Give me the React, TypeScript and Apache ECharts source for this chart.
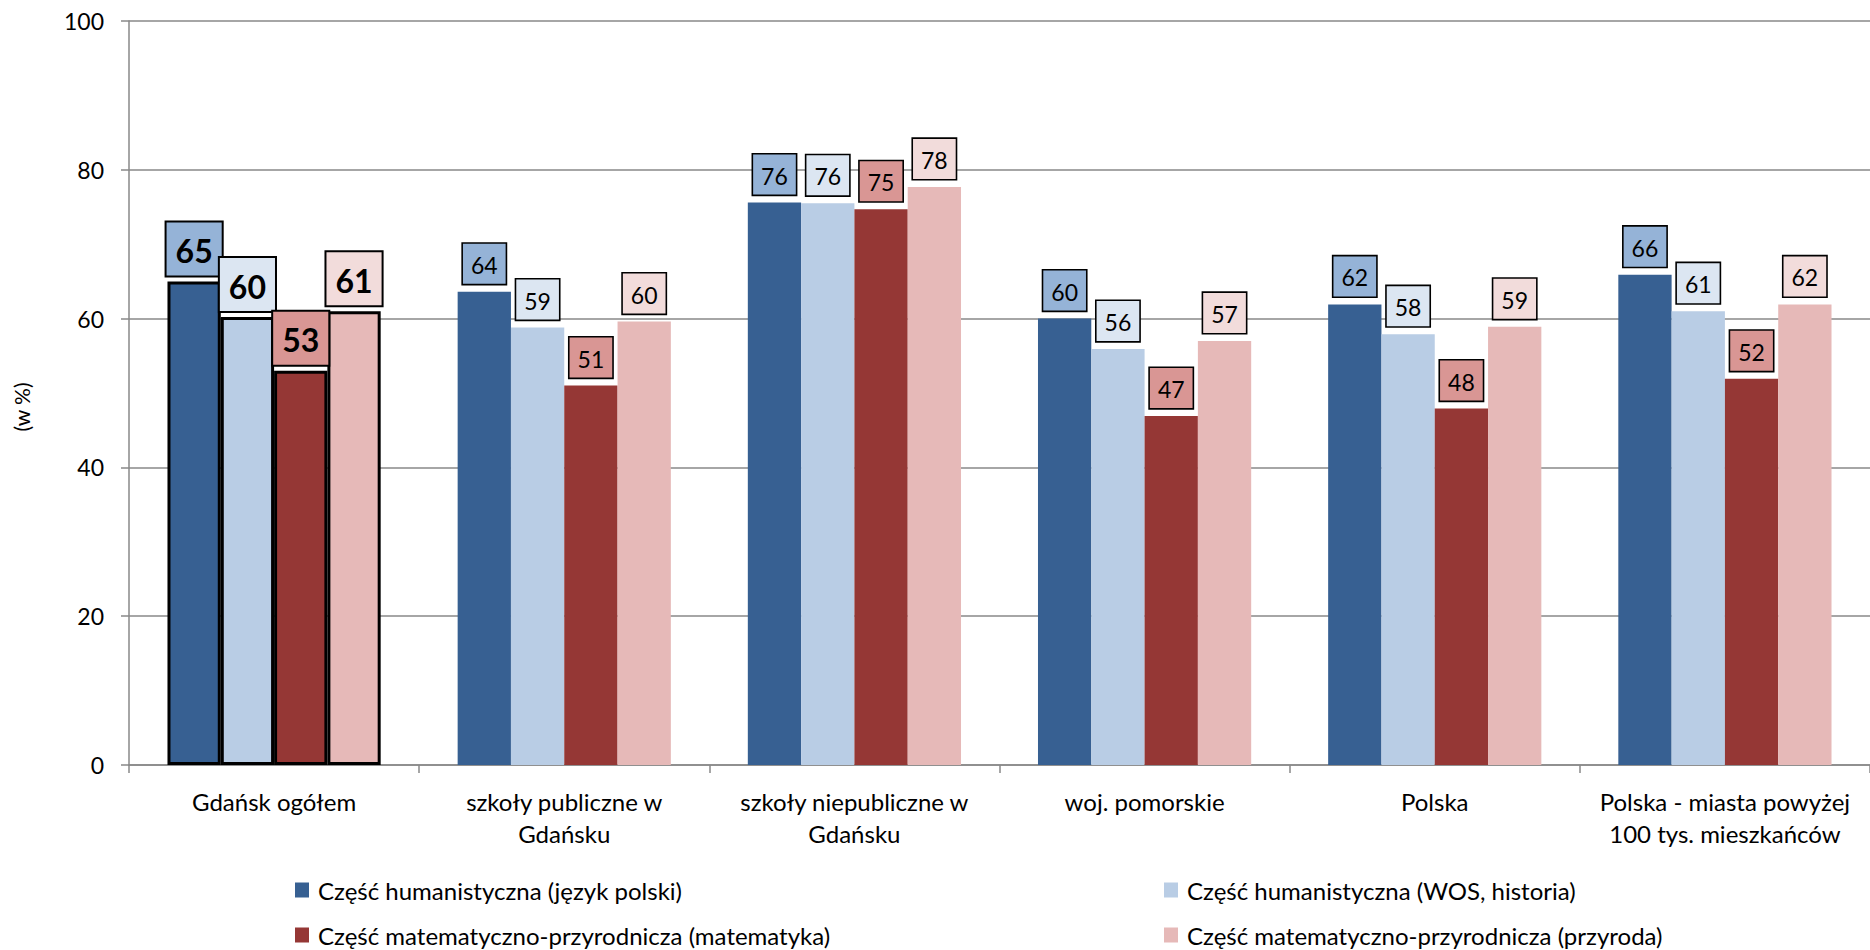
import React, { useEffect, useRef } from "react";
import * as echarts from "echarts";

const categories = [
  "Gdańsk ogółem",
  "szkoły publiczne w\nGdańsku",
  "szkoły niepubliczne w\nGdańsku",
  "woj. pomorskie",
  "Polska",
  "Polska - miasta powyżej\n100 tys. mieszkańców",
];

const seriesNames = [
  "Część humanistyczna (język polski)",
  "Część humanistyczna (WOS, historia)",
  "Część matematyczno-przyrodnicza (matematyka)",
  "Część matematyczno-przyrodnicza (przyroda)",
];

const jezykPolski = [65.0, 63.6, 75.6, 60.0, 61.9, 65.9];
const wosHistoria = [60.2, 58.8, 75.5, 55.9, 57.9, 61.0];
const matematyka = [53.0, 51.0, 74.7, 46.9, 47.9, 51.9];
const przyroda = [61.0, 59.6, 77.7, 57.0, 58.9, 61.9];

const yTicks = [0, 20, 40, 60, 80, 100];

const barColors = ["#376092", "#B9CDE5", "#953735", "#E6B9B8"];
const labelFills = ["#95B3D7", "#DCE6F2", "#D99694", "#F2DCDB"];

const FONT = "Lato";

export default function App() {
  const ref = useRef<HTMLDivElement>(null);

  useEffect(() => {
    if (!ref.current) return;
    const chart = echarts.init(ref.current, null, { renderer: "svg" });
    const allValues = [jezykPolski, wosHistoria, matematyka, przyroda];

    const series = allValues.map((vals, si) => ({
      name: seriesNames[si],
      type: "bar",
      barWidth: 53.3,
      barGap: "0%",
      itemStyle: { color: barColors[si] },
      label: {
        show: true,
        position: "top",
        distance: 8,
        formatter: (p: any) => String(Math.round(p.value)),
        fontFamily: FONT,
        fontSize: 23,
        color: "#000",
        backgroundColor: labelFills[si],
        borderColor: "#000",
        borderWidth: 1.6,
        padding: [8, 8, 6, 8],
        lineHeight: 26,
      },
      data: vals.map((v, i) =>
        i === 0
          ? {
              value: v,
              itemStyle: { color: barColors[si], borderColor: "#000", borderWidth: 3 },
              label: {
                fontSize: 32,
                fontWeight: "bold",
                lineHeight: 36,
                padding: [10, 9, 7, 9],
                borderWidth: 2,
                distance: 6,
              },
            }
          : v
      ),
    }));

    const legendCommon = {
      orient: "vertical",
      top: 878,
      width: 700,
      height: 150,
      padding: 0,
      itemWidth: 14,
      itemHeight: 15,
      itemGap: 21,
      icon: "rect",
      textStyle: { fontFamily: FONT, fontSize: 24, color: "#000", lineHeight: 24, padding: [0, 0, 0, 4] },
    };

    chart.setOption({
      animation: false,
      textStyle: { fontFamily: FONT },
      grid: { left: 129, top: 21, width: 1752, bottom: 185, containLabel: false },
      legend: [
        { ...legendCommon, left: 295, data: [seriesNames[0], seriesNames[2]] },
        { ...legendCommon, left: 1164, data: [seriesNames[1], seriesNames[3]] },
      ],
      xAxis: {
        type: "category",
        data: categories,
        axisLine: { lineStyle: { color: "#888", width: 1.5 } },
        axisTick: { show: true, length: 8, interval: 0, lineStyle: { color: "#888", width: 1.5 } },
        axisLabel: {
          interval: 0,
          margin: 20,
          fontFamily: FONT,
          fontSize: 24,
          lineHeight: 32,
          color: "#000",
        },
      },
      yAxis: {
        type: "value",
        min: yTicks[0],
        max: yTicks[yTicks.length - 1],
        interval: 20,
        axisLine: { show: true, lineStyle: { color: "#888", width: 1.5 } },
        axisTick: { show: true, length: 8, lineStyle: { color: "#888", width: 1.5 } },
        splitLine: { show: true, lineStyle: { color: "#888", width: 1.5 } },
        axisLabel: { margin: 25, fontFamily: FONT, fontSize: 23, color: "#000" },
      },
      graphic: [
        {
          type: "text",
          x: 21,
          y: 407,
          rotation: Math.PI / 2,
          style: {
            text: "(w %)",
            fontFamily: FONT,
            fontSize: 21,
            fill: "#000",
            align: "center",
            verticalAlign: "middle",
          },
        },
      ],
      series,
    });

    return () => chart.dispose();
  }, []);

  return (
    <div
      ref={ref}
      style={{ position: "fixed", left: 0, top: 0, width: 1870, height: 950, background: "#fff" }}
    />
  );
}
